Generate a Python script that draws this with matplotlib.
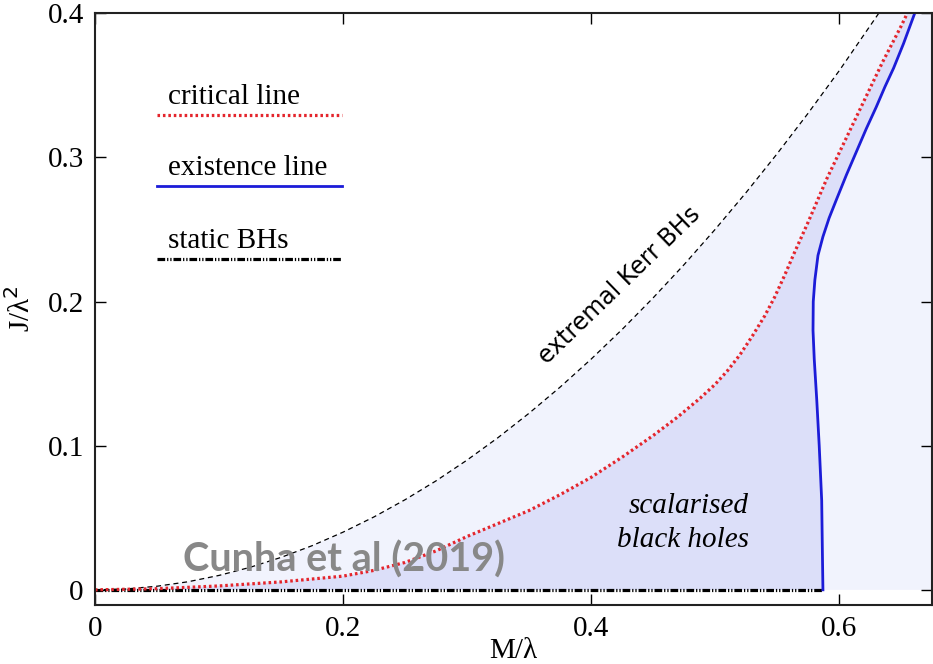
import matplotlib
matplotlib.use("Agg")
import matplotlib.pyplot as plt
from matplotlib.lines import Line2D

# extremal Kerr BHs (dashed)
kerr_M = [0.0, 0.025, 0.05, 0.075, 0.10, 0.125, 0.15, 0.175, 0.20, 0.225, 0.25, 0.275, 0.30,
          0.325, 0.35, 0.375, 0.40, 0.425, 0.45, 0.475, 0.50, 0.525, 0.55, 0.575, 0.60, 0.632]
kerr_J = [0.0, 0.0006, 0.0025, 0.0056, 0.010, 0.0156, 0.0225, 0.0306, 0.040, 0.0506, 0.0625,
          0.0756, 0.090, 0.1056, 0.1225, 0.1406, 0.160, 0.1806, 0.2025, 0.2256, 0.250, 0.2756,
          0.3025, 0.3306, 0.360, 0.400]

# critical line (red dotted)
crit_M = [0.0, 0.05, 0.10, 0.15, 0.20, 0.225, 0.25, 0.275, 0.30, 0.325, 0.35, 0.375, 0.40,
          0.425, 0.45, 0.47, 0.488, 0.50, 0.51, 0.52, 0.53, 0.54, 0.548, 0.556, 0.563,
          0.575, 0.59, 0.605, 0.62, 0.635, 0.65, 0.655]
crit_J = [0.0, 0.0008, 0.0027, 0.0055, 0.0095, 0.0135, 0.019, 0.027, 0.037, 0.046, 0.055,
          0.066, 0.078, 0.092, 0.107, 0.120, 0.133, 0.1425, 0.152, 0.163, 0.176, 0.190,
          0.203, 0.218, 0.232, 0.255, 0.285, 0.312, 0.339, 0.366, 0.391, 0.400]

# existence line (blue solid)
exist_M = [0.587, 0.5865, 0.586, 0.584, 0.582, 0.580, 0.579, 0.5792, 0.5805, 0.583, 0.587,
           0.592, 0.598, 0.606, 0.614, 0.622, 0.630, 0.637, 0.644, 0.652, 0.661]
exist_J = [0.0, 0.030, 0.062, 0.100, 0.132, 0.160, 0.180, 0.200, 0.215, 0.232, 0.245,
           0.258, 0.271, 0.288, 0.304, 0.320, 0.335, 0.349, 0.362, 0.379, 0.400]

# static BHs (dash-dot-dot)
static_M = [0.0, 0.587]
static_J = [0.0, 0.0]

xmin, xmax = 0.0, 0.675
ymin, ymax = -0.0105, 0.4

light = '#f1f3fd'
dark = '#dcdff9'
red = '#e4252c'
blue = '#1c1cd8'

fig = plt.figure(figsize=(9.33, 6.64), dpi=100)
ax = fig.add_axes([0.1018, 0.0889, 0.8972, 0.8911])

# light region under the Kerr bound
ax.fill(kerr_M + [xmax, xmax], kerr_J + [ymax, 0.0], color=light, lw=0)
# scalarised black holes region
ax.fill(crit_M + exist_M[::-1], crit_J + exist_J[::-1], color=dark, lw=0)

dashdotdot = (0, (2.4, 0.6, 0.4, 0.6, 0.4, 0.6))
dots = (0, (0.8, 0.9))

ax.plot(kerr_M, kerr_J, color='black', lw=0.9, linestyle=(0, (4, 3)))
ax.plot(static_M, static_J, color='black', lw=2.3, linestyle=dashdotdot)
ax.plot(crit_M, crit_J, color=red, lw=2.3, linestyle=dots)
ax.plot(exist_M, exist_J, color=blue, lw=2)

ax.set_xlim(xmin, xmax)
ax.set_ylim(ymin, ymax)
ax.set_xticks([0, 0.2, 0.4, 0.6])
ax.set_xticklabels(['0', '0.2', '0.4', '0.6'])
ax.set_yticks([0, 0.1, 0.2, 0.3, 0.4])
ax.set_yticklabels(['0', '0.1', '0.2', '0.3', '0.4'])

serif = 'Liberation Serif'
ax.tick_params(direction='in', length=8, width=1, top=True, right=True,
               labelsize=21, pad=8)
for lab in ax.get_xticklabels() + ax.get_yticklabels():
    lab.set_fontfamily(serif)
for s in ax.spines.values():
    s.set_linewidth(1.5)
    s.set_color('#222222')

ax.set_xlabel('M/λ', fontsize=21, fontfamily=serif, labelpad=-3)
ax.set_ylabel('J/λ$^2$', fontsize=21, fontfamily=serif, labelpad=8)

# legend, gnuplot style: text above each sample line
entries = [
    ('critical line', dict(color=red, lw=2.3, linestyle=dots)),
    ('existence line', dict(color=blue, lw=2)),
    ('static BHs', dict(color='black', lw=2.3, linestyle=dashdotdot)),
]
line_y = [0.828, 0.708, 0.584]
for (label, style), yy in zip(entries, line_y):
    ax.add_line(Line2D([0.074, 0.295], [yy, yy], transform=ax.transAxes, **style))
    ax.text(0.087, yy + 0.019, label, transform=ax.transAxes, fontsize=21,
            fontfamily=serif, ha='left', va='baseline')

ax.text(0.527, 0.0534, 'scalarised', fontsize=21, fontfamily=serif, style='italic',
        ha='right', va='baseline')
ax.text(0.527, 0.0298, 'black holes', fontsize=21, fontfamily=serif, style='italic',
        ha='right', va='baseline')

ax.text(0.423, 0.211, 'extremal Kerr BHs', fontsize=17, fontfamily='DejaVu Sans',
        rotation=44, ha='center', va='center', rotation_mode='anchor')

ax.text(0.071, 0.0125, 'Cunha et al (2019)', fontsize=28.5, fontfamily='Lato',
        fontweight='bold', color='#888888', ha='left', va='baseline')

fig.savefig('out.png', dpi=100)
